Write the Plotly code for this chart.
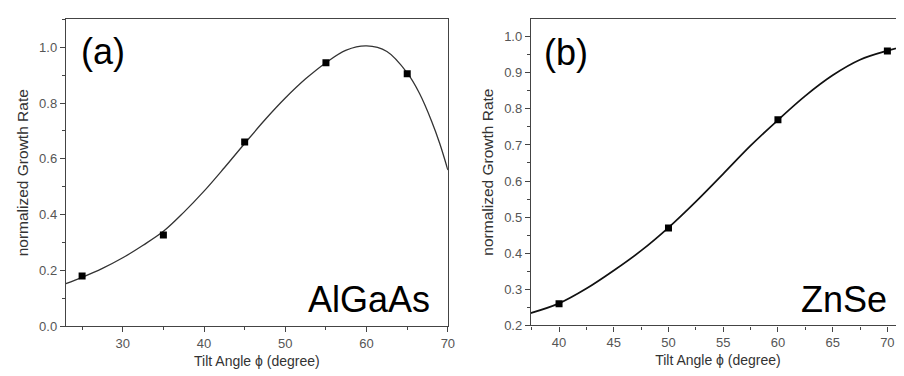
import plotly.graph_objects as go

# ---- Panel (a): AlGaAs ----
a_pts_x = [25, 35, 45, 55, 65]
a_pts_y = [0.18, 0.327, 0.66, 0.945, 0.905]
a_fit_x = [23, 25, 27.5, 30, 32.5, 35, 37.5, 40, 42.5, 45, 47.5, 50, 52.5, 55, 57.5, 60, 62.5, 65, 66.5, 68, 69, 70]
a_fit_y = [0.152, 0.175, 0.207, 0.245, 0.29, 0.34, 0.408, 0.484, 0.568, 0.655, 0.74, 0.818, 0.887, 0.945, 0.99, 1.005, 0.985, 0.908, 0.835, 0.735, 0.655, 0.56]

# ---- Panel (b): ZnSe ----
b_pts_x = [40, 50, 60, 70]
b_pts_y = [0.26, 0.47, 0.77, 0.96]
b_fit_x = [37.4, 40, 42.5, 45, 47.5, 50, 52.5, 55, 57.5, 60, 62.5, 65, 67.5, 70, 71.6]
b_fit_y = [0.234, 0.261, 0.302, 0.352, 0.407, 0.471, 0.543, 0.62, 0.698, 0.769, 0.836, 0.893, 0.936, 0.961, 0.973]

x_title = "Tilt Angle ϕ (degree)"
y_title = "normalized Growth Rate"

FONT = "Liberation Sans, Arial, sans-serif"
AX = "#444444"
W, H = 904, 376

def px(v):
    return v / W

def py(v):
    return 1 - v / H

fig = go.Figure()
fig.add_trace(go.Scatter(x=a_fit_x, y=a_fit_y, mode="lines", line=dict(color="#333333", width=1.3, shape="spline", smoothing=1.0),
                         xaxis="x", yaxis="y", showlegend=False))
fig.add_trace(go.Scatter(x=a_pts_x, y=a_pts_y, mode="markers", marker=dict(symbol="square", size=7, color="black"),
                         xaxis="x", yaxis="y", showlegend=False))
fig.add_trace(go.Scatter(x=b_fit_x, y=b_fit_y, mode="lines", line=dict(color="#111111", width=1.7, shape="spline", smoothing=1.0),
                         xaxis="x2", yaxis="y2", showlegend=False))
fig.add_trace(go.Scatter(x=b_pts_x, y=b_pts_y, mode="markers", marker=dict(symbol="square", size=7, color="black"),
                         xaxis="x2", yaxis="y2", showlegend=False))

a_xr = [23, 70]
a_yr = [0, 1.1]
b_xr = [37.43, 71.61]
b_yr = [0.2, 1.0496]

a_dx = [px(58.3), px(443.3)]
a_dy = [py(325), py(11.7)]
b_dx = [px(527), 1.0]
b_dy = [py(324.3), py(11)]

tickfont = dict(family=FONT, size=13, color="#555555")
xtitlefont = dict(family=FONT, size=14, color="#333333")
ytitlefont = dict(family=FONT, size=15.5, color="#333333")

def main_axis(rng, dom, anchor, dtick, mdtick, title, fmt, tfont, standoff, mirror=True):
    return dict(range=rng, domain=dom, anchor=anchor, showgrid=False, zeroline=False,
                showline=True, linecolor=AX, linewidth=1.2, mirror=mirror,
                ticks="outside", ticklen=5, tickwidth=1, tickcolor=AX, dtick=dtick,
                tickformat=fmt, tickfont=tickfont,
                minor=dict(dtick=mdtick, ticks="outside", ticklen=3, tickwidth=1, tickcolor=AX),
                title=dict(text=title, font=tfont, standoff=standoff), fixedrange=True)

def mirror_axis(rng, overlay, anchor, side, dtick, mdtick):
    return dict(range=rng, overlaying=overlay, anchor=anchor, side=side, showgrid=False, zeroline=False,
                showline=False, showticklabels=False, ticks="inside", ticklen=5, tickwidth=1, tickcolor=AX,
                dtick=dtick, minor=dict(dtick=mdtick, ticks="inside", ticklen=3, tickwidth=1, tickcolor=AX),
                fixedrange=True)

fig.update_layout(
    width=W, height=H, margin=dict(l=0, r=0, t=0, b=0),
    paper_bgcolor="white", plot_bgcolor="white",
    xaxis=main_axis(a_xr, a_dx, "y", 10, 5, x_title, "d", xtitlefont, 6),
    yaxis=main_axis(a_yr, a_dy, "x", 0.2, 0.1, y_title, ".1f", ytitlefont, 6),
    xaxis2=main_axis(b_xr, b_dx, "y2", 5, 2.5, x_title, "d", xtitlefont, 6, mirror=True),
    yaxis2=main_axis(b_yr, b_dy, "x2", 0.1, 0.05, y_title, ".1f", ytitlefont, 6, mirror=False),
    xaxis3=mirror_axis(a_xr, "x", "y", "top", 10, 5),
    yaxis3=mirror_axis(a_yr, "y", "x", "right", 0.2, 0.1),
    xaxis4=mirror_axis(b_xr, "x2", "y2", "top", 5, 2.5),
)

big = dict(family=FONT, size=36, color="black")
fig.add_annotation(text="(a)", xref="paper", yref="paper", x=px(72), y=py(44), xanchor="left", yanchor="middle",
                   showarrow=False, font=big)
fig.add_annotation(text="AlGaAs", xref="paper", yref="paper", x=px(427), y=py(298), xanchor="right", yanchor="middle",
                   showarrow=False, font=big)
fig.add_annotation(text="(b)", xref="paper", yref="paper", x=px(538), y=py(45), xanchor="left", yanchor="middle",
                   showarrow=False, font=big)
fig.add_annotation(text="ZnSe", xref="paper", yref="paper", x=px(888), y=py(298), xanchor="right", yanchor="middle",
                   showarrow=False, font=big)

fig.write_html("out.html")
